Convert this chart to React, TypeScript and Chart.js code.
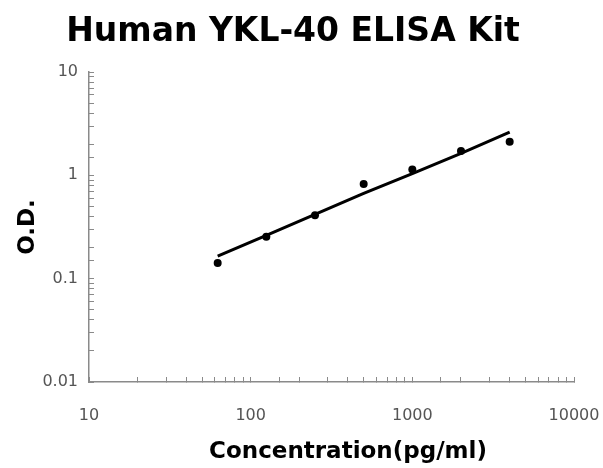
import React, { useEffect, useRef } from "react";
import { Chart, registerables } from "chart.js";

Chart.register(...registerables);

const TITLE = "Human YKL-40 ELISA Kit";
const X_TITLE = "Concentration(pg/ml)";
const Y_TITLE = "O.D.";

const concentrations = [62.5, 125, 250, 500, 1000, 2000, 4000];
const odValues = [0.142, 0.254, 0.412, 0.824, 1.14, 1.72, 2.11];
const fitValues = [0.165, 0.262, 0.42, 0.67, 1.04, 1.63, 2.62];

const xRange = [10, 10000];
const yRange = [0.01, 10];

const FONT = '"DejaVu Sans", "Liberation Sans", Arial, sans-serif';

const isPow10 = (v: number) => {
  const l = Math.log10(v);
  return Math.abs(l - Math.round(l)) < 1e-9;
};

const textPlugin = {
  id: "textPlugin",
  afterDraw(chart: any) {
    const ctx = chart.ctx;
    ctx.save();
    ctx.fillStyle = "#000";
    ctx.textAlign = "center";
    ctx.textBaseline = "alphabetic";
    ctx.font = `bold 33px ${FONT}`;
    ctx.fillText(TITLE, 293, 41);
    ctx.font = `bold 23px ${FONT}`;
    ctx.fillText(X_TITLE, 348, 458);
    ctx.translate(34, 227);
    ctx.rotate(-Math.PI / 2);
    ctx.fillText(Y_TITLE, 0, 0);
    ctx.restore();
  },
};

export default function App() {
  const ref = useRef<HTMLCanvasElement | null>(null);

  useEffect(() => {
    if (!ref.current) return;
    const axisColor = "#8a8a8a";
    const tickFont = { family: FONT, size: 16 };
    const chart = new Chart(ref.current, {
      type: "scatter",
      data: {
        datasets: [
          {
            label: "Fit",
            data: concentrations.map((c, i) => ({ x: c, y: fitValues[i] })),
            showLine: true,
            borderColor: "#000",
            borderWidth: 3,
            pointRadius: 0,
            tension: 0,
            fill: false,
          },
          {
            label: "O.D.",
            data: concentrations.map((c, i) => ({ x: c, y: odValues[i] })),
            showLine: false,
            backgroundColor: "#000",
            borderColor: "#000",
            pointRadius: 4,
            pointBorderWidth: 0,
          },
        ],
      },
      options: {
        responsive: false,
        animation: false,
        layout: { padding: { top: 72, right: 29, bottom: 0, left: 0 } },
        plugins: {
          legend: { display: false },
          title: { display: false },
          tooltip: { enabled: false },
        },
        scales: {
          x: {
            type: "logarithmic",
            position: "bottom",
            min: xRange[0],
            max: xRange[1],
            afterFit: (s: any) => {
              s.height = 86;
              s.paddingLeft = 0;
              s.paddingRight = 0;
            },
            ticks: {
              autoSkip: false,
              maxRotation: 0,
              padding: 29,
              color: "#555",
              font: tickFont,
              callback: (v: any) => (isPow10(Number(v)) ? String(Number(v)) : ""),
            },
            grid: {
              drawOnChartArea: false,
              drawTicks: true,
              tickLength: -5,
              color: axisColor,
              lineWidth: 1,
            },
            border: { color: axisColor, width: 1.5 },
          },
          y: {
            type: "logarithmic",
            position: "left",
            min: yRange[0],
            max: yRange[1],
            afterFit: (s: any) => {
              s.width = 89;
              s.paddingTop = 0;
              s.paddingBottom = 0;
            },
            ticks: {
              autoSkip: false,
              padding: 16,
              color: "#555",
              font: tickFont,
              callback: (v: any) => (isPow10(Number(v)) ? String(Number(v)) : ""),
            },
            grid: {
              drawOnChartArea: false,
              drawTicks: true,
              tickLength: -5,
              color: axisColor,
              lineWidth: 1,
            },
            border: { color: axisColor, width: 1.5 },
          },
        },
      },
      plugins: [textPlugin],
    });
    return () => chart.destroy();
  }, []);

  return (
    <div style={{ position: "absolute", left: 0, top: 0, width: 603, height: 468, background: "#fff" }}>
      <canvas ref={ref} width={603} height={468} style={{ display: "block" }} />
    </div>
  );
}
